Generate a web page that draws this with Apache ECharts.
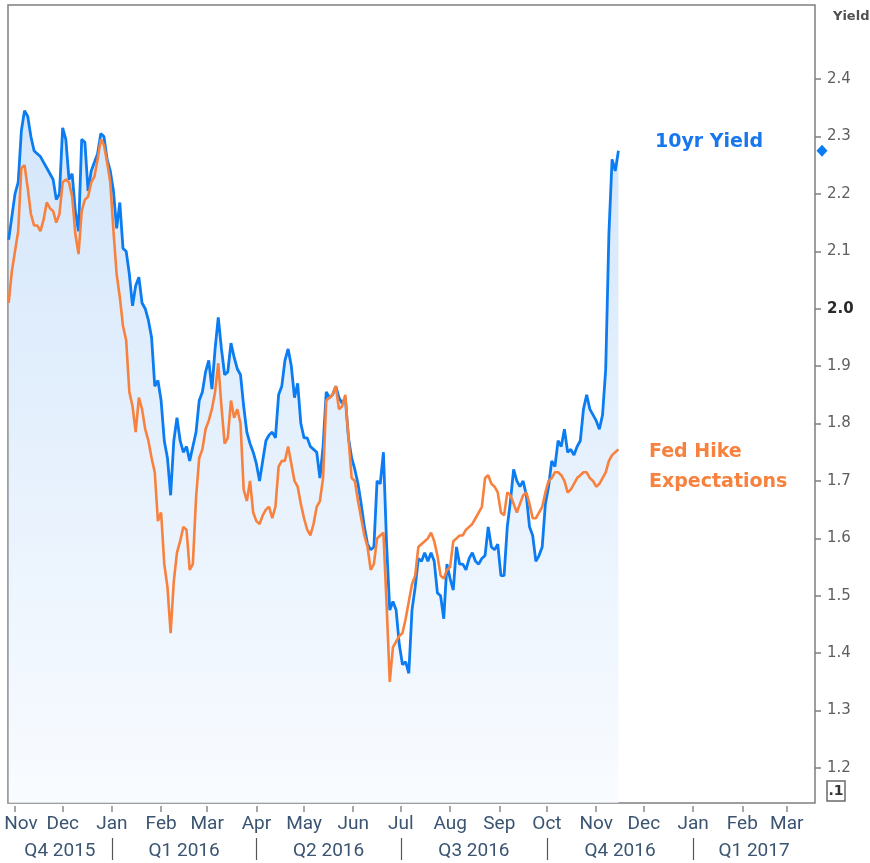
<!DOCTYPE html>
<html>
<head>
<meta charset="utf-8">
<title>10yr Yield vs Fed Hike Expectations</title>
<script src="https://cdn.jsdelivr.net/npm/echarts@6/dist/echarts.min.js"></script>
<style>
  html, body { margin: 0; padding: 0; background: #fff; }
  #chart { width: 870px; height: 863px; }
</style>
</head>
<body>
<div id="chart"></div>
<script>
// readings every 2 calendar days, first one on 2015-10-28
const startDate = '2015-10-28';
const stepDays = 2;

const yield10 = [
  2.12, 2.16, 2.20, 2.22, 2.31, 2.345, 2.335, 2.30, 2.275, 2.27,
  2.265, 2.255, 2.245, 2.235, 2.225, 2.19, 2.20, 2.315, 2.295, 2.225,
  2.235, 2.17, 2.135, 2.295, 2.29, 2.205, 2.24, 2.255, 2.27, 2.305,
  2.30, 2.26, 2.24, 2.205, 2.14, 2.185, 2.105, 2.10, 2.06, 2.005,
  2.04, 2.055, 2.01, 2.00, 1.98, 1.95, 1.865, 1.875, 1.84, 1.77,
  1.74, 1.675, 1.77, 1.81, 1.77, 1.75, 1.76, 1.735, 1.76, 1.785,
  1.84, 1.855, 1.89, 1.91, 1.86, 1.93, 1.985, 1.93, 1.885, 1.89,
  1.94, 1.915, 1.895, 1.885, 1.83, 1.785, 1.765, 1.75, 1.73, 1.70,
  1.735, 1.77, 1.78, 1.785, 1.775, 1.85, 1.865, 1.91, 1.93, 1.90,
  1.845, 1.87, 1.80, 1.775, 1.775, 1.76, 1.755, 1.75, 1.705, 1.76,
  1.855, 1.845, 1.85, 1.865, 1.845, 1.835, 1.845, 1.775, 1.74, 1.72,
  1.695, 1.66, 1.62, 1.59, 1.58, 1.585, 1.70, 1.695, 1.75, 1.59,
  1.475, 1.49, 1.475, 1.415, 1.38, 1.385, 1.365, 1.475, 1.515, 1.565,
  1.56, 1.575, 1.56, 1.575, 1.56, 1.505, 1.50, 1.46, 1.555, 1.53,
  1.51, 1.585, 1.555, 1.555, 1.545, 1.565, 1.575, 1.56, 1.555, 1.565,
  1.57, 1.62, 1.585, 1.58, 1.59, 1.535, 1.535, 1.62, 1.665, 1.72,
  1.70, 1.69, 1.70, 1.675, 1.62, 1.605, 1.56, 1.57, 1.585, 1.66,
  1.69, 1.735, 1.725, 1.77, 1.76, 1.79, 1.75, 1.755, 1.745, 1.76,
  1.77, 1.825, 1.85, 1.825, 1.815, 1.805, 1.79, 1.815, 1.895, 2.13,
  2.26, 2.24, 2.275
];

const fedHike = [
  2.01, 2.065, 2.10, 2.135, 2.245, 2.25, 2.21, 2.165, 2.145, 2.145,
  2.135, 2.155, 2.185, 2.175, 2.17, 2.15, 2.165, 2.22, 2.225, 2.22,
  2.195, 2.13, 2.095, 2.17, 2.19, 2.195, 2.22, 2.23, 2.26, 2.295,
  2.285, 2.255, 2.22, 2.135, 2.06, 2.02, 1.97, 1.945, 1.855, 1.83,
  1.785, 1.845, 1.825, 1.79, 1.77, 1.74, 1.715, 1.63, 1.645, 1.555,
  1.515, 1.435, 1.525, 1.575, 1.595, 1.62, 1.615, 1.545, 1.555, 1.67,
  1.74, 1.755, 1.79, 1.805, 1.825, 1.855, 1.905, 1.83, 1.765, 1.775,
  1.84, 1.81, 1.825, 1.80, 1.685, 1.665, 1.70, 1.645, 1.63, 1.625,
  1.64, 1.65, 1.655, 1.635, 1.655, 1.725, 1.735, 1.735, 1.76, 1.73,
  1.70, 1.69, 1.66, 1.635, 1.615, 1.605, 1.625, 1.655, 1.665, 1.705,
  1.84, 1.845, 1.85, 1.865, 1.825, 1.83, 1.85, 1.775, 1.705, 1.70,
  1.665, 1.635, 1.605, 1.585, 1.545, 1.555, 1.60, 1.605, 1.61, 1.485,
  1.35, 1.41, 1.42, 1.43, 1.435, 1.46, 1.49, 1.52, 1.535, 1.585,
  1.59, 1.595, 1.60, 1.61, 1.595, 1.57, 1.535, 1.53, 1.545, 1.55,
  1.595, 1.60, 1.605, 1.605, 1.615, 1.62, 1.625, 1.635, 1.645, 1.655,
  1.705, 1.71, 1.695, 1.69, 1.68, 1.645, 1.64, 1.68, 1.675, 1.66,
  1.645, 1.66, 1.675, 1.68, 1.66, 1.635, 1.635, 1.645, 1.655, 1.68,
  1.70, 1.705, 1.715, 1.715, 1.71, 1.70, 1.68, 1.685, 1.695, 1.705,
  1.71, 1.715, 1.715, 1.705, 1.70, 1.69, 1.695, 1.705, 1.715, 1.735,
  1.745, 1.75, 1.755
];

const monthStarts = [
  '2015-11-01', '2015-12-01', '2016-01-01', '2016-02-01', '2016-03-01',
  '2016-04-01', '2016-05-01', '2016-06-01', '2016-07-01', '2016-08-01',
  '2016-09-01', '2016-10-01', '2016-11-01', '2016-12-01', '2017-01-01',
  '2017-02-01', '2017-03-01'
];
const monthLabels = [
  'Nov', 'Dec', 'Jan', 'Feb', 'Mar', 'Apr', 'May', 'Jun', 'Jul',
  'Aug', 'Sep', 'Oct', 'Nov', 'Dec', 'Jan', 'Feb', 'Mar'
];
const quarterStarts = [
  '2015-10-01', '2016-01-01', '2016-04-01', '2016-07-01',
  '2016-10-01', '2017-01-01', '2017-04-01'
];
const quarterLabels = ['Q4 2015', 'Q1 2016', 'Q2 2016', 'Q3 2016', 'Q4 2016', 'Q1 2017'];
const yTicks = [1.2, 1.3, 1.4, 1.5, 1.6, 1.7, 1.8, 1.9, 2.0, 2.1, 2.2, 2.3, 2.4];

const viewStart = Date.parse('2015-10-27T14:00:00Z');
const viewEnd = Date.parse('2017-03-18T19:00:00Z');

const DAY = 86400000;
const ts = (d) => Date.parse(d + 'T00:00:00Z');
const t0 = ts(startDate);
const toPairs = (arr) => arr.map((v, i) => [t0 + i * stepDays * DAY, v]);

const monthTs = monthStarts.map(ts);
const quarterTs = quarterStarts.map(ts);
const quarterBounds = quarterTs.slice(1, -1);
const quarterCenters = quarterLabels.map((q, i) => {
  const a = Math.max(quarterTs[i], viewStart);
  const b = Math.min(quarterTs[i + 1], viewEnd);
  return Math.round((a + b) / 2);
});

const BLUE = '#0b7cf2';
const ORANGE = '#f7813d';
const AXIS_TEXT = '#3a5472';
const labelFont = 'Roboto, "Liberation Sans", sans-serif';
const dejavu = '"DejaVu Sans", Verdana, sans-serif';

const chart = echarts.init(document.getElementById('chart'));

// x axes are plain value axes holding timestamps; ticks/labels placed with customValues
const option = {
  animation: false,
  backgroundColor: '#ffffff',
  grid: {
    left: 8, right: 55, top: 5, bottom: 60,
    show: true,
    borderColor: '#7f7f7f',
    borderWidth: 1.5,
    containLabel: false,
    outerBoundsMode: 'none'
  },
  xAxis: [
    {
      type: 'value',
      min: viewStart,
      max: viewEnd,
      position: 'bottom',
      offset: 3,
      axisLine: { show: false },
      splitLine: { show: false },
      axisTick: {
        show: true,
        customValues: monthTs,
        length: 6,
        lineStyle: { color: '#8a8a8a', width: 1.5 }
      },
      axisLabel: {
        customValues: monthTs,
        margin: 9,
        color: AXIS_TEXT,
        fontFamily: labelFont,
        fontSize: 19,
        formatter: (v) => {
          const i = monthTs.indexOf(v);
          if (i < 0) return '';
          return i === 0 ? '{first|' + monthLabels[i] + '}' : monthLabels[i];
        },
        rich: {
          first: { color: AXIS_TEXT, fontFamily: labelFont, fontSize: 19, padding: [0, 0, 0, 12] }
        }
      }
    },
    {
      type: 'value',
      min: viewStart,
      max: viewEnd,
      position: 'bottom',
      offset: 35,
      axisLine: { show: false },
      splitLine: { show: false },
      axisTick: {
        show: true,
        customValues: quarterBounds,
        length: 22,
        lineStyle: { color: '#555555', width: 1.2 }
      },
      axisLabel: {
        customValues: quarterCenters,
        margin: 4,
        color: AXIS_TEXT,
        fontFamily: labelFont,
        fontSize: 19,
        formatter: (v) => quarterLabels[quarterCenters.indexOf(v)] || ''
      }
    }
  ],
  yAxis: {
    type: 'value',
    position: 'right',
    min: 1.139,
    max: 2.529,
    axisLine: { show: false },
    splitLine: { show: false },
    axisTick: {
      show: true,
      customValues: yTicks,
      length: 6,
      lineStyle: { color: '#7f7f7f', width: 1.5 }
    },
    axisLabel: {
      customValues: yTicks,
      margin: 12,
      color: '#5e5e5e',
      fontFamily: dejavu,
      fontSize: 15,
      formatter: (v) => (Math.abs(v - 2) < 1e-6 ? '{b|2.0}' : v.toFixed(1)),
      rich: {
        b: { fontWeight: 'bold', color: '#2a2a2a', fontFamily: dejavu, fontSize: 15 }
      }
    }
  },
  graphic: [
    {
      type: 'text', x: 833, y: 17,
      style: { text: 'Yield', font: 'bold 13px "DejaVu Sans"', fill: '#505050', align: 'left', verticalAlign: 'middle' }
    },
    {
      type: 'text', x: 655, y: 142,
      style: { text: '10yr Yield', font: 'bold 19px "DejaVu Sans"', fill: '#1877ee', align: 'left', verticalAlign: 'middle' }
    },
    {
      type: 'text', x: 649, y: 452,
      style: { text: 'Fed Hike', font: 'bold 19px "DejaVu Sans"', fill: ORANGE, align: 'left', verticalAlign: 'middle' }
    },
    {
      type: 'text', x: 649, y: 482,
      style: { text: 'Expectations', font: 'bold 19px "DejaVu Sans"', fill: ORANGE, align: 'left', verticalAlign: 'middle' }
    },
    {
      type: 'rect',
      shape: { x: 827, y: 781, width: 18, height: 20 },
      style: { fill: 'none', stroke: '#6a6a6a', lineWidth: 1.5 }
    },
    {
      type: 'text', x: 836, y: 791,
      style: { text: '.1', font: 'bold 14px "DejaVu Sans"', fill: '#333', align: 'center', verticalAlign: 'middle' }
    }
  ],
  series: [
    {
      name: '10yr Yield',
      type: 'line',
      xAxisIndex: 0,
      data: toPairs(yield10),
      showSymbol: false,
      symbol: 'none',
      lineStyle: { color: BLUE, width: 2.8 },
      itemStyle: { color: BLUE },
      areaStyle: {
        origin: 'start',
        color: {
          type: 'linear', x: 0, y: 5, x2: 0, y2: 803, global: true,
          colorStops: [
            { offset: 0, color: '#b9d7f8' },
            { offset: 1, color: '#f6faff' }
          ]
        }
      },
      markPoint: {
        silent: true,
        data: [{
          coord: [viewEnd, yield10[yield10.length - 1]],
          symbol: 'diamond',
          symbolSize: [11, 12],
          symbolOffset: [7, 0],
          itemStyle: { color: BLUE },
          label: { show: false }
        }]
      }
    },
    {
      name: 'Fed Hike Expectations',
      type: 'line',
      xAxisIndex: 0,
      data: toPairs(fedHike),
      showSymbol: false,
      symbol: 'none',
      lineStyle: { color: ORANGE, width: 2.6 },
      itemStyle: { color: ORANGE }
    }
  ]
};

chart.setOption(option);
</script>
</body>
</html>
